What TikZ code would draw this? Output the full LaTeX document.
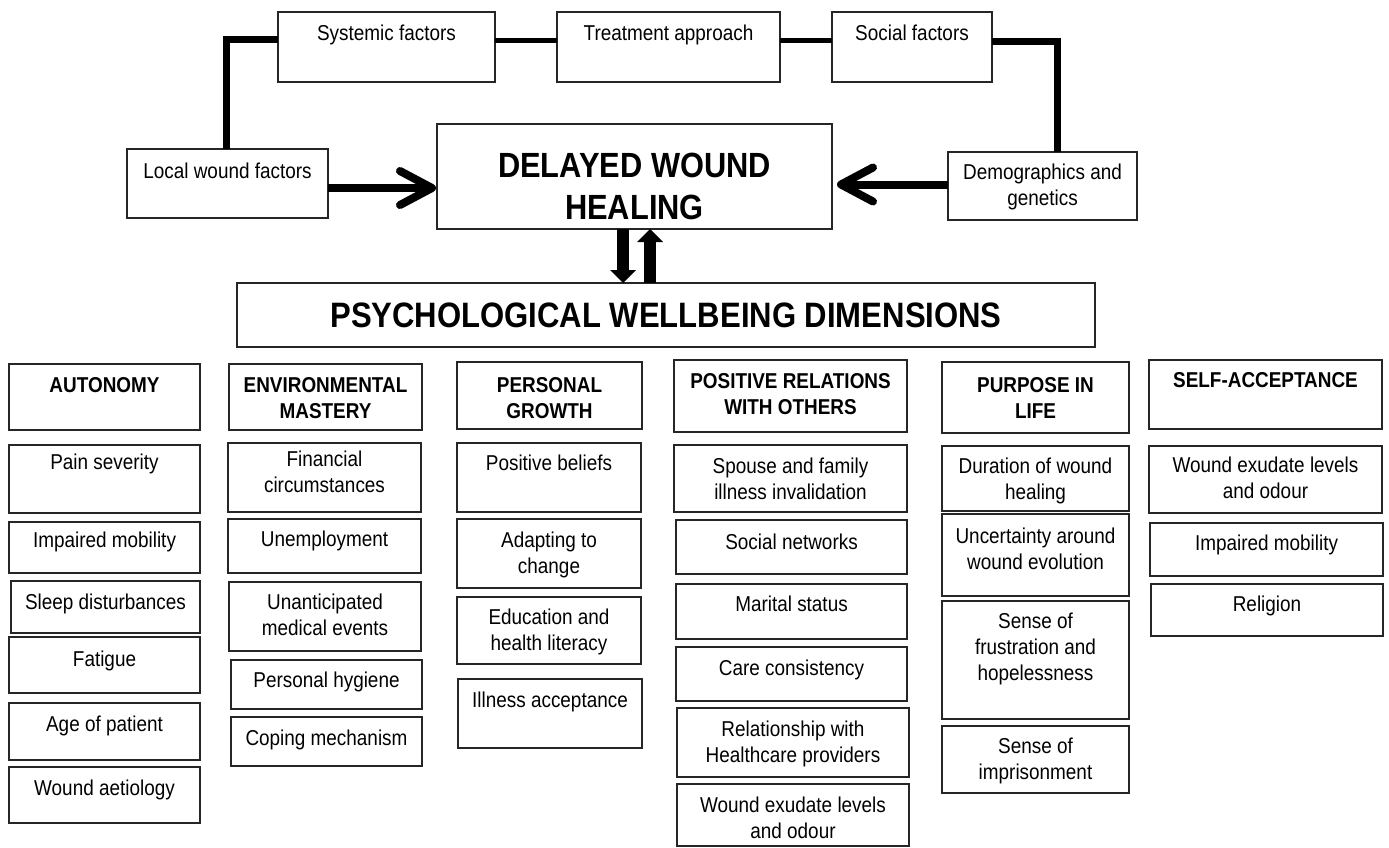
\documentclass[tikz,border=0pt]{standalone}
\usepackage{fontspec}
\setmainfont[FakeStretch=0.88]{Liberation Sans}
\usetikzlibrary{arrows.meta}
\tikzset{
  box/.style={draw=black!85, line width=1.2pt, rectangle, inner sep=0pt, outer sep=0pt},
  lbl/.style={inner sep=0pt, align=center, font=\fontsize{21.5}{26}\selectfont},
  hd/.style={inner sep=0pt, align=center, font=\fontsize{21.5}{26}\selectfont\bfseries},
  ttl/.style={inner sep=0pt, align=center, font=\fontsize{35}{42}\selectfont\bfseries},
  link/.style={line width=7pt, line join=miter},
  linkthin/.style={line width=5pt},
  fat/.style={line width=8pt},
  chev/.style={line width=8pt, line cap=round, line join=round},
  blk/.style={line width=12pt, -{Triangle[length=13pt,width=26pt,line width=0pt]}}
}
\newcommand\bx[8][lbl]{%
  \node[box, anchor=north west, minimum width={(#5-#3)*1pt}, minimum height={(#6-#4)*1pt}] (#2) at (#3,#4) {};
  \node[#1, anchor=north] (#2t) at ({(#3+#5)/2},{#7-16}) {\rule{0pt}{16pt}#8};}
\begin{document}
\begin{tikzpicture}[x=1pt,y=-1pt]
\useasboundingbox (0,0) rectangle (1389,847);
% top row
\bx{sys}{278}{12}{495}{82}{40}{Systemic factors}
\bx{treat}{557}{12}{780}{82}{40}{Treatment approach}
\bx{soc}{832}{12}{992}{82}{40}{Social factors}
\bx{local}{127}{149}{328}{218}{178}{Local wound factors}
\bx{demo}{948}{152}{1137}{220}{179}{Demographics and\\genetics}
% central boxes
\node[box, anchor=north west, minimum width=395pt, minimum height=105pt] (dwh) at (437,124) {};
\node[ttl, anchor=north] (dwht) at (634.5,151) {\rule{0pt}{26pt}DELAYED WOUND\\HEALING};
\node[box, anchor=north west, minimum width=858pt, minimum height=64pt] (psych) at (237,283) {};
\node[ttl, font=\fontsize{35.3}{42}\selectfont\bfseries, anchor=base] (psycht) at (666,327) {PSYCHOLOGICAL WELLBEING DIMENSIONS};
% connectors
\coordinate (cL) at (226,39);
\draw[link] (sys.west |- cL) -- (cL) -- (cL |- local.north);
\coordinate (c1) at (526,40);
\draw[linkthin] (c1 -| sys.east) -- (c1 -| treat.west);
\coordinate (c2) at (806,40);
\draw[linkthin] (c2 -| treat.east) -- (c2 -| soc.west);
\coordinate (cR) at (1057,41);
\draw[link] (soc.east |- cR) -- (cR) -- (cR |- demo.north);
% horizontal arrows
\coordinate (tipL) at (432,188);
\draw[fat] (local.east |- tipL) -- ([xshift=-4pt]tipL);
\draw[chev] ([shift={(-32pt,17pt)}]tipL) -- (tipL) -- ([shift={(-32pt,-17pt)}]tipL);
\coordinate (tipR) at (841,184.5);
\draw[fat] (demo.west |- tipR) -- ([xshift=4pt]tipR);
\draw[chev] ([shift={(32pt,17pt)}]tipR) -- (tipR) -- ([shift={(32pt,-17pt)}]tipR);
% vertical arrows
\coordinate (dA) at (623,0);
\draw[blk] (dwh.south -| dA) -- (psych.north -| dA);
\coordinate (uA) at (650,0);
\draw[blk] (psych.north -| uA) -- (dwh.south -| uA);
% column 1
\bx[hd]{a0}{9}{364}{200}{430}{392}{AUTONOMY}
\bx{a1}{9}{445}{200}{513}{469}{Pain severity}
\bx{a2}{9}{522}{200}{573}{547}{Impaired mobility}
\bx{a3}{11}{581}{200}{633}{609}{Sleep disturbances}
\bx{a4}{9}{637}{200}{693}{666}{Fatigue}
\bx{a5}{9}{703}{200}{760}{731}{Age of patient}
\bx{a6}{9}{767}{200}{823}{795}{Wound aetiology}
% column 2
\bx[hd]{b0}{229}{364}{422}{430}{392}{ENVIRONMENTAL\\MASTERY}
\bx{b1}{228}{443}{421}{512}{466}{Financial\\circumstances}
\bx{b2}{228}{519}{421}{573}{546}{Unemployment}
\bx{b3}{229}{582}{421}{651}{609}{Unanticipated\\medical events}
\bx{b4}{231}{660}{422}{709}{687}{Personal hygiene}
\bx{b5}{231}{717}{422}{766}{745}{Coping mechanism}
% column 3
\bx[hd]{c0}{457}{362}{642}{429}{392}{PERSONAL\\GROWTH}
\bx{c1}{457}{443}{641}{512}{470}{Positive beliefs}
\bx{c2}{457}{519}{641}{588}{547}{Adapting to\\change}
\bx{c3}{457}{597}{641}{664}{624}{Education and\\health literacy}
\bx{c4}{458}{679}{642}{748}{707}{Illness acceptance}
% column 4
\bx[hd]{d0}{674}{360}{907}{432}{388}{POSITIVE RELATIONS\\WITH OTHERS}
\bx{d1}{674}{445}{907}{512}{473}{Spouse and family\\illness invalidation}
\bx{d2}{676}{520}{907}{574}{549}{Social networks}
\bx{d3}{676}{584}{907}{639}{611}{Marital status}
\bx{d4}{676}{647}{907}{701}{675}{Care consistency}
\bx{d5}{677}{708}{909}{777}{736}{Relationship with\\Healthcare providers}
\bx{d6}{677}{784}{909}{846}{812}{Wound exudate levels\\and odour}
% column 5
\bx[hd]{e0}{942}{362}{1129}{433}{392}{PURPOSE IN\\LIFE}
\bx{e1}{942}{446}{1129}{511}{473}{Duration of wound\\healing}
\bx{e2}{942}{514}{1129}{596}{543}{Uncertainty around\\wound evolution}
\bx{e3}{942}{601}{1129}{719}{628}{Sense of\\frustration and\\hopelessness}
\bx{e4}{942}{726}{1129}{793}{753}{Sense of\\imprisonment}
% column 6
\bx[hd]{f0}{1149}{360}{1382}{429}{387}{SELF-ACCEPTANCE}
\bx{f1}{1149}{446}{1382}{513}{472}{Wound exudate levels\\and odour}
\bx{f2}{1150}{523}{1383}{576}{550}{Impaired mobility}
\bx{f3}{1151}{584}{1383}{636}{611}{Religion}
\end{tikzpicture}
\end{document}
